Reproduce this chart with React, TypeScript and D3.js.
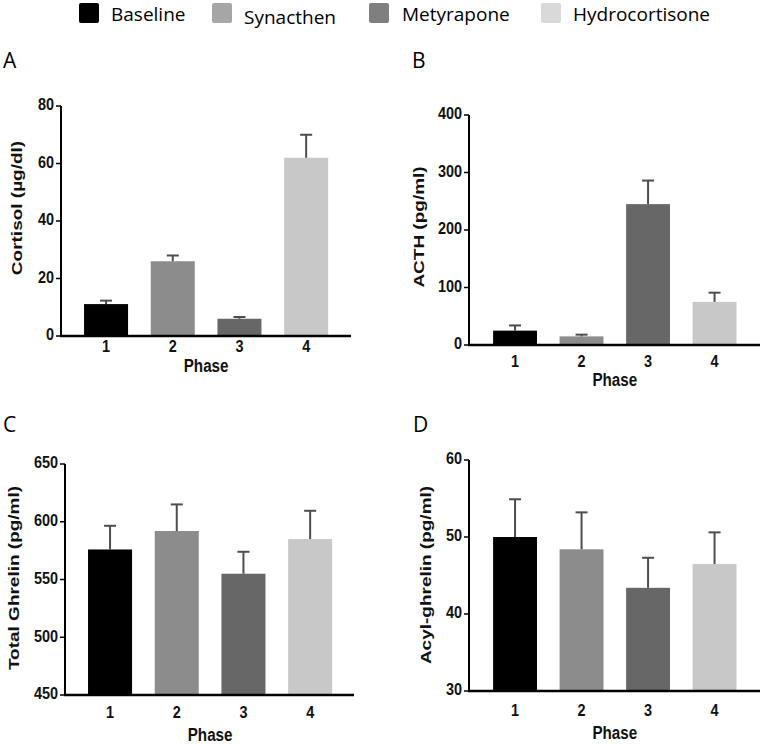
import React from "react";
import * as d3 from "d3";

const phases = ["1", "2", "3", "4"];
const groups = ["Baseline", "Synacthen", "Metyrapone", "Hydrocortisone"];
const barColors = ["#000000", "#8c8c8c", "#676767", "#c8c8c8"];
const legendColors = ["#000000", "#a6a6a6", "#7f7f7f", "#d9d9d9"];

const cortisolMean = [11.1, 26.0, 6.0, 62.0];
const cortisolErr = [1.2, 2.0, 0.6, 8.0];
const acthMean = [25, 15, 245, 75];
const acthErr = [9, 3, 41, 16];
const totalGhrelinMean = [576, 592, 555, 585];
const totalGhrelinErr = [20.5, 23, 19, 24.5];
const acylGhrelinMean = [50.0, 48.4, 43.4, 46.5];
const acylGhrelinErr = [4.9, 4.8, 3.9, 4.1];

const cortisolTicks = [0, 20, 40, 60, 80];
const acthTicks = [0, 100, 200, 300, 400];
const totalGhrelinTicks = [450, 500, 550, 600, 650];
const acylGhrelinTicks = [30, 40, 50, 60];

const FONT = "'Liberation Sans', Arial, sans-serif";
const LFONT = "'Open Sans', sans-serif";

type PanelProps = {
  letter: string;
  letterX: number;
  letterY: number;
  title: string;
  titleX: number;
  titleY: number;
  mean: number[];
  err: number[];
  ticks: number[];
  axisX: number;
  axisEnd: number;
  yTop: number;
  yBottom: number;
  bandStart: number;
  step: number;
  tickLabelY: number;
  phaseY: number;
};

function Panel(p: PanelProps) {
  const domain = [p.ticks[0], p.ticks[p.ticks.length - 1]];
  const y = d3.scaleLinear().domain(domain).range([p.yBottom, p.yTop]);
  const x = d3
    .scaleBand<string>()
    .domain(phases)
    .range([p.bandStart, p.bandStart + p.step * 4])
    .paddingInner(0.34)
    .paddingOuter(0.17);
  const bw = x.bandwidth();
  const cx = (d: string) => (x(d) as number) + bw / 2;
  const capW = 12;
  const plotMid = (p.bandStart + p.bandStart + p.step * 4) / 2;
  return (
    <g>
      <text x={p.letterX} y={p.letterY} fontFamily={LFONT} fontSize={21} fill="#000">
        {p.letter}
      </text>
      {phases.map((d, i) => (
        <g key={d}>
          <rect
            x={x(d)}
            y={y(p.mean[i])}
            width={bw}
            height={p.yBottom - y(p.mean[i])}
            fill={barColors[i]}
          />
          <line
            x1={cx(d)}
            x2={cx(d)}
            y1={y(p.mean[i])}
            y2={y(p.mean[i] + p.err[i])}
            stroke="#4d4d4d"
            strokeWidth={2}
          />
          <line
            x1={cx(d) - capW / 2}
            x2={cx(d) + capW / 2}
            y1={y(p.mean[i] + p.err[i])}
            y2={y(p.mean[i] + p.err[i])}
            stroke="#4d4d4d"
            strokeWidth={2}
          />
          <g transform={`translate(${cx(d)},${p.tickLabelY}) scale(0.85,1)`}>
            <text
              textAnchor="middle"
              dominantBaseline="middle"
              fontFamily={FONT}
              fontWeight="bold"
              fontSize={17}
              fill="#111"
            >
              {d}
            </text>
          </g>
        </g>
      ))}
      <line x1={p.axisX} x2={p.axisX} y1={p.yTop} y2={p.yBottom} stroke="#000" strokeWidth={2} />
      <line x1={p.axisX - 1} x2={p.axisEnd} y1={p.yBottom} y2={p.yBottom} stroke="#000" strokeWidth={2.5} />
      {p.ticks.map((t) => (
        <g key={t}>
          <line x1={p.axisX - 5} x2={p.axisX} y1={y(t)} y2={y(t)} stroke="#000" strokeWidth={1.5} />
          <g transform={`translate(${p.axisX - 7},${y(t)}) scale(0.85,1)`}>
            <text
              textAnchor="end"
              dominantBaseline="middle"
              fontFamily={FONT}
              fontWeight="bold"
              fontSize={17}
              fill="#111"
            >
              {t}
            </text>
          </g>
        </g>
      ))}
      <g transform={`translate(${p.titleX},${p.titleY}) rotate(-90) scale(1,0.8)`}>
        <text textAnchor="middle" fontFamily={FONT} fontWeight="bold" fontSize={19} fill="#111">
          {p.title}
        </text>
      </g>
      <g transform={`translate(${plotMid},${p.phaseY}) scale(0.8,1)`}>
        <text
          textAnchor="middle"
          dominantBaseline="middle"
          fontFamily={FONT}
          fontWeight="bold"
          fontSize={19}
          fill="#111"
        >
          Phase
        </text>
      </g>
    </g>
  );
}

const legendSquareX = [79, 212, 369, 541];
const legendTextX = [111, 244, 402, 573];
const legendTextY = [21, 24, 21, 21];

export default function App() {
  return (
    <svg
      width={762}
      height={745}
      style={{ position: "absolute", left: 0, top: 0, background: "#fff" }}
    >
      <rect width={762} height={745} fill="#fff" />
      {groups.map((g, i) => (
        <g key={g}>
          <rect x={legendSquareX[i]} y={3} width={20} height={20} rx={2} fill={legendColors[i]} />
          <text x={legendTextX[i]} y={legendTextY[i]} fontFamily={LFONT} fontSize={19} fill="#000">
            {g}
          </text>
        </g>
      ))}
      <Panel
        letter="A"
        letterX={3}
        letterY={68}
        title="Cortisol (µg/dl)"
        titleX={22}
        titleY={208}
        mean={cortisolMean}
        err={cortisolErr}
        ticks={cortisolTicks}
        axisX={61}
        axisEnd={351}
        yTop={106}
        yBottom={336}
        bandStart={72.7}
        step={66.7}
        tickLabelY={348}
        phaseY={367}
      />
      <Panel
        letter="B"
        letterX={412}
        letterY={68}
        title="ACTH (pg/ml)"
        titleX={424}
        titleY={227}
        mean={acthMean}
        err={acthErr}
        ticks={acthTicks}
        axisX={469}
        axisEnd={760}
        yTop={115}
        yBottom={345}
        bandStart={481.8}
        step={66.5}
        tickLabelY={363}
        phaseY={381}
      />
      <Panel
        letter="C"
        letterX={3}
        letterY={432}
        title="Total Ghrelin (pg/ml)"
        titleX={19}
        titleY={578}
        mean={totalGhrelinMean}
        err={totalGhrelinErr}
        ticks={totalGhrelinTicks}
        axisX={65}
        axisEnd={354}
        yTop={464}
        yBottom={695}
        bandStart={76.7}
        step={66.7}
        tickLabelY={714}
        phaseY={736}
      />
      <Panel
        letter="D"
        letterX={413}
        letterY={432}
        title="Acyl-ghrelin (pg/ml)"
        titleX={431}
        titleY={575}
        mean={acylGhrelinMean}
        err={acylGhrelinErr}
        ticks={acylGhrelinTicks}
        axisX={469}
        axisEnd={760}
        yTop={460}
        yBottom={691}
        bandStart={481.8}
        step={66.5}
        tickLabelY={712}
        phaseY={734}
      />
    </svg>
  );
}
